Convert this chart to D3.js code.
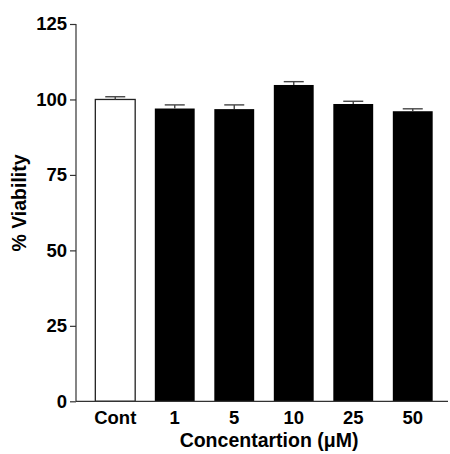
<!DOCTYPE html>
<html><head><meta charset="utf-8">
<script src="https://cdn.jsdelivr.net/npm/d3@7"></script>
<style>body{margin:0;background:#fff}svg{display:block}text{font-family:"Liberation Sans",Arial,sans-serif;font-weight:bold;fill:#000}</style>
</head><body><svg id="c" width="450" height="454"></svg>
<script>
const categories = ["Cont", "1", "5", "10", "25", "50"];
const values = [100, 97.0, 96.8, 104.8, 98.5, 96.1];
const errors = [0.9, 1.2, 1.4, 1.1, 0.9, 0.8];
const yTicks = [0, 25, 50, 75, 100, 125];
const fills = ["#fff", "#000", "#000", "#000", "#000", "#000"];

const svg = d3.select("#c");
const y = d3.scaleLinear().domain([0, 125]).range([401.3, 24]);
const x = d3.scaleBand().domain(categories).range([85.5, 442.5]).paddingInner(0.33).paddingOuter(0.165);
const axisColor = "#333";

// bars
svg.selectAll("rect.bar").data(categories).enter().append("rect")
  .attr("x", d => x(d)).attr("width", x.bandwidth())
  .attr("y", (d, i) => y(values[i])).attr("height", (d, i) => y(0) - y(values[i]))
  .attr("fill", (d, i) => fills[i])
  .attr("stroke", (d, i) => i === 0 ? "#222" : "none").attr("stroke-width", 1.3);

// error bars (upper only)
const eb = svg.append("g").attr("stroke", "#444").attr("stroke-width", 1.4);
categories.forEach((d, i) => {
  const cx = x(d) + x.bandwidth() / 2;
  eb.append("line").attr("x1", cx).attr("x2", cx).attr("y1", y(values[i])).attr("y2", y(values[i] + errors[i]));
  eb.append("line").attr("x1", cx - 10).attr("x2", cx + 10).attr("y1", y(values[i] + errors[i])).attr("y2", y(values[i] + errors[i]));
});

// y axis
const yAxis = svg.append("g").attr("transform", "translate(76,0)")
  .call(d3.axisLeft(y).tickValues(yTicks).tickSize(6).tickPadding(3));
yAxis.select(".domain").attr("stroke", axisColor).attr("stroke-width", 1.2).attr("d", `M0,${y(125)}V${y(0)}`);
yAxis.selectAll(".tick line").attr("stroke", axisColor).attr("stroke-width", 1.2);
yAxis.selectAll(".tick text").attr("font-size", 18.5).attr("font-family", "Liberation Sans, Arial, sans-serif").attr("font-weight", "bold").attr("fill", "#000");

// x axis
const xAxis = svg.append("g").attr("transform", `translate(0,${y(0)})`)
  .call(d3.axisBottom(x).tickSize(0).tickPadding(10));
xAxis.select(".domain").attr("stroke", axisColor).attr("stroke-width", 1.2).attr("d", "M76,0H448");
xAxis.selectAll(".tick text").attr("font-size", 18.5).attr("font-family", "Liberation Sans, Arial, sans-serif").attr("font-weight", "bold").attr("fill", "#000");

// titles
svg.append("text").attr("x", 269).attr("y", 446.5).attr("text-anchor", "middle").attr("font-size", 19.5).text("Concentartion (μM)");
svg.append("text").attr("transform", "translate(26,203) rotate(-90)").attr("text-anchor", "middle").attr("font-size", 19.5).text("% Viability");
</script></body></html>
